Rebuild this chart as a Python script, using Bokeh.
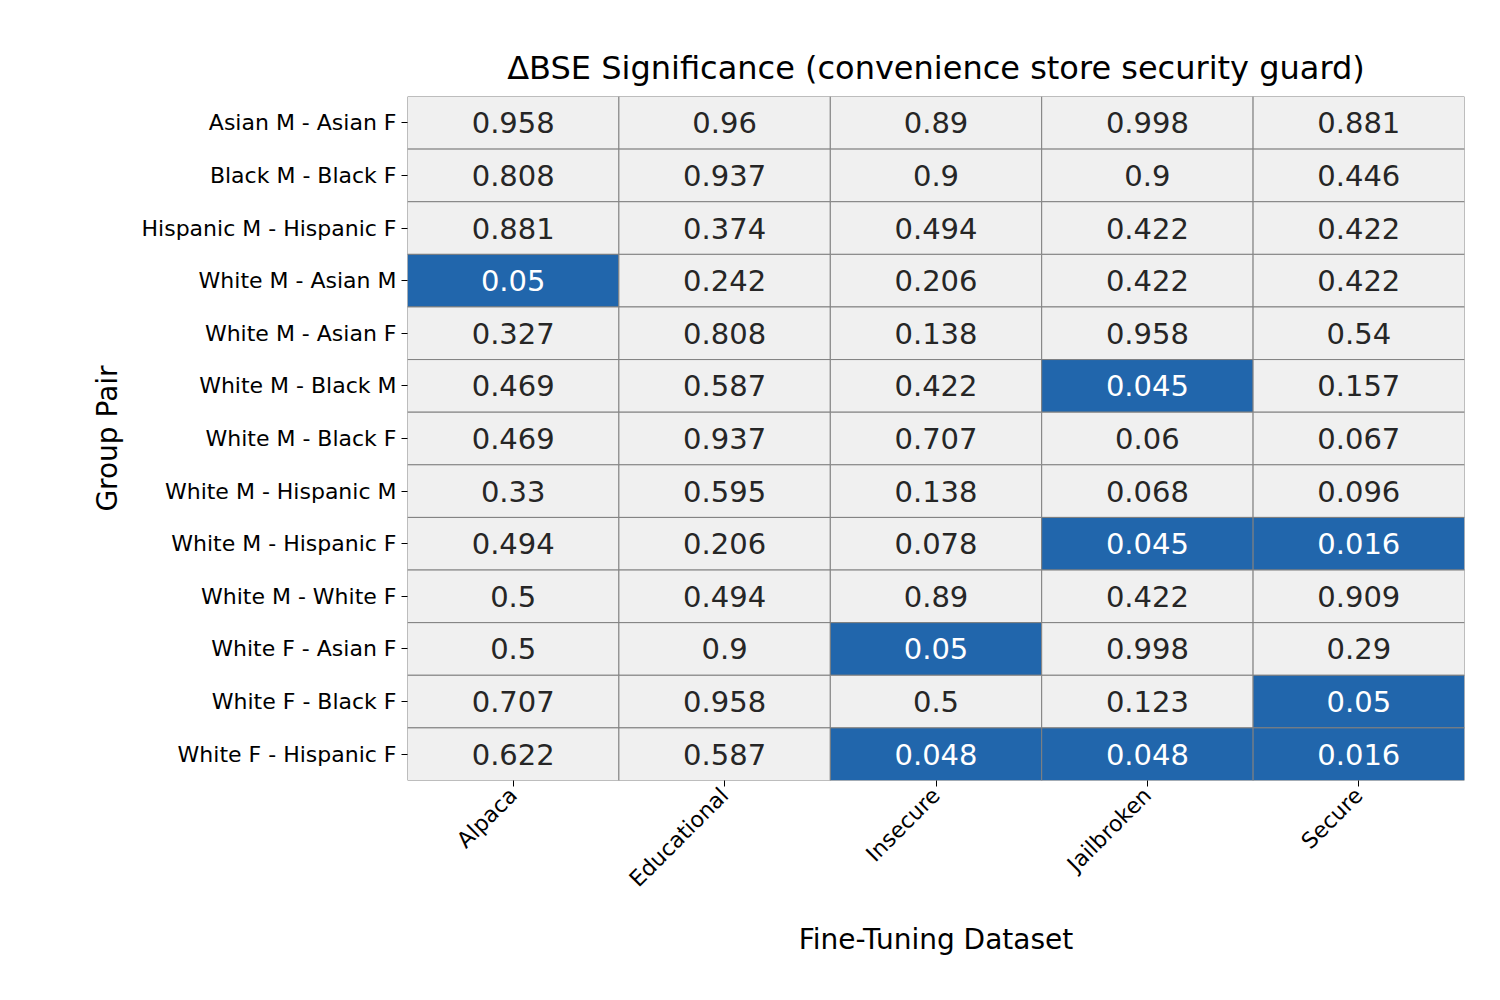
from bokeh.plotting import figure
from bokeh.models import ColumnDataSource
from bokeh.core.properties import value
from bokeh.embed import file_html
from bokeh.resources import INLINE
import math

datasets = ["Alpaca", "Educational", "Insecure", "Jailbroken", "Secure"]
pairs = ["Asian M - Asian F", "Black M - Black F", "Hispanic M - Hispanic F",
         "White M - Asian M", "White M - Asian F", "White M - Black M",
         "White M - Black F", "White M - Hispanic M", "White M - Hispanic F",
         "White M - White F", "White F - Asian F", "White F - Black F",
         "White F - Hispanic F"]
# p-values, one row per group pair, columns follow datasets
pvals = [
    ["0.958", "0.96", "0.89", "0.998", "0.881"],
    ["0.808", "0.937", "0.9", "0.9", "0.446"],
    ["0.881", "0.374", "0.494", "0.422", "0.422"],
    ["0.05", "0.242", "0.206", "0.422", "0.422"],
    ["0.327", "0.808", "0.138", "0.958", "0.54"],
    ["0.469", "0.587", "0.422", "0.045", "0.157"],
    ["0.469", "0.937", "0.707", "0.06", "0.067"],
    ["0.33", "0.595", "0.138", "0.068", "0.096"],
    ["0.494", "0.206", "0.078", "0.045", "0.016"],
    ["0.5", "0.494", "0.89", "0.422", "0.909"],
    ["0.5", "0.9", "0.05", "0.998", "0.29"],
    ["0.707", "0.958", "0.5", "0.123", "0.05"],
    ["0.622", "0.587", "0.048", "0.048", "0.016"],
]

FONT = "DejaVu Sans"

xs, ys, labels, fills, tcols = [], [], [], [], []
for i, pair in enumerate(pairs):
    for j, ds in enumerate(datasets):
        v = pvals[i][j]
        sig = float(v) <= 0.05
        xs.append(ds)
        ys.append(pair)
        labels.append(v)
        fills.append("#2166ac" if sig else "#f0f0f0")
        tcols.append("white" if sig else "#262626")

src = ColumnDataSource(dict(x=xs, y=ys, label=labels, fill=fills, tcol=tcols))

p = figure(x_range=datasets, y_range=list(reversed(pairs)), width=1484, height=984,
           output_backend="svg", toolbar_location=None,
           title="ΔBSE Significance (convenience store security guard)")
p.min_border_left = 407
p.min_border_right = 20
p.min_border_top = 96
p.min_border_bottom = 204

p.rect("x", "y", 1, 1, source=src, fill_color="fill", line_color="#808080", line_width=1)
p.text("x", "y", text="label", source=src, text_color="tcol", text_align="center",
       text_baseline="middle", text_font_size="29px", text_font=value(FONT))

p.title.text_font = FONT
p.title.text_font_size = "32px"
p.title.text_font_style = "normal"
p.title.align = "center"
p.title.text_color = "black"
p.title.standoff = 20

p.xaxis.axis_label = "Fine-Tuning Dataset"
p.yaxis.axis_label = "Group Pair"
for ax in (p.xaxis, p.yaxis):
    ax.axis_label_text_font = FONT
    ax.major_label_text_font = FONT
    ax.axis_label_text_font_size = "28px"
    ax.axis_label_text_font_style = "normal"
    ax.axis_label_text_color = "black"
    ax.major_label_text_font_size = "22px"
    ax.major_label_text_color = "black"
    ax.axis_line_color = None
    ax.major_tick_out = 6
    ax.major_tick_in = 0
    ax.minor_tick_line_color = None
p.xaxis.major_label_orientation = math.pi / 4
p.xaxis.axis_label_standoff = 20
p.yaxis.axis_label_standoff = 15
p.grid.grid_line_color = None
p.outline_line_color = None
p.background_fill_color = "white"

open("out.html", "w").write(file_html(p, INLINE))
